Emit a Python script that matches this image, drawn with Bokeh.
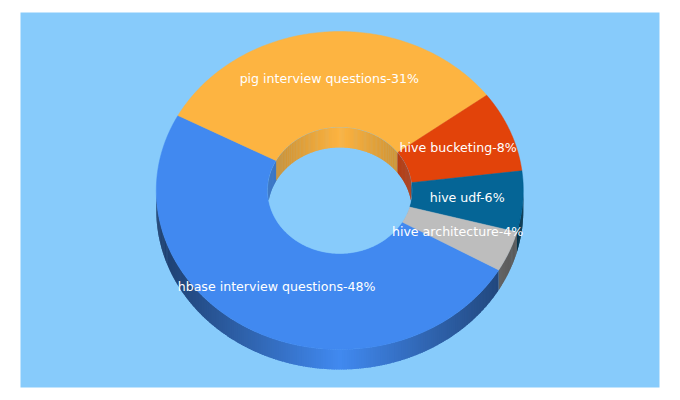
import numpy as np
from bokeh.plotting import figure
from bokeh.models import Range1d
from bokeh.embed import file_html
from bokeh.resources import INLINE
from bokeh.core.properties import value as bk_value

categories = ["hbase interview questions", "pig interview questions", "hive bucketing", "hive udf", "hive architecture"]
percent = [48, 31, 8, 6, 4]
colors = ["#4189F0", "#FDB441", "#E2430A", "#056596", "#BDBDBD"]
BG = "#87CBFB"

RX, RY, IRX, IRY, DEPTH = 183.5, 159.0, 72.0, 63.0, 20.0
START = 120.0
STEP = 0.75
LABEL_DX, LABEL_DY = -0.8, 1.3


def shade(hex_color, f):
    rgb = [int(hex_color[i:i + 2], 16) for i in (1, 3, 5)]
    return "#%02x%02x%02x" % tuple(int(round(c * f)) for c in rgb)


def pt(cw_deg, rx, ry):
    a = np.radians(cw_deg)
    return rx * np.sin(a), ry * np.cos(a)


p = figure(width=664, height=392, frame_width=639, frame_height=375,
           x_range=Range1d(-319.3, 319.7), y_range=Range1d(-197, 178),
           toolbar_location=None, output_backend="svg",
           min_border_left=20, min_border_top=12, min_border_right=5, min_border_bottom=5,
           border_fill_color="white", background_fill_color=BG, outline_line_color=None)
p.axis.visible = False
p.grid.visible = False

total = sum(percent)
spans = []
a0 = START
for v in percent:
    a1 = a0 + 360.0 * v / total
    spans.append((a0, a1))
    a0 = a1


def strips(rx, ry, front, fade):
    """One thin quad per small angle step, each overlapping the next."""
    xs, ys, cs = [], [], []
    for (s0, s1), col in zip(spans, colors):
        angs = np.arange(s0, s1, STEP)
        for s in angs:
            e = min(s + STEP * 1.6, s1)
            m = s + STEP / 2
            if (np.cos(np.radians(m)) < 0) != front:
                continue
            f = 1 - fade * abs(np.sin(np.radians(m)))
            mid = np.linspace(s, e, 3)
            xa, ya = pt(mid, rx, ry)
            if front:
                yb = ya - DEPTH
            else:
                yb = np.maximum(ya - DEPTH, -ya)
            xs.append(np.concatenate([xa, xa[::-1]]).tolist())
            ys.append(np.concatenate([ya, yb[::-1]]).tolist())
            cs.append(shade(col, f))
    return xs, ys, cs


# outer wall (front half)
xs, ys, cs = strips(RX, RY, True, 0.55)
p.patches(xs, ys, fill_color=cs, line_color=None)

# top faces
xs, ys = [], []
for (a0, a1) in spans:
    ang = np.linspace(a0, a1, 160)
    xo, yo = pt(ang, RX, RY)
    xi, yi = pt(ang[::-1], IRX, IRY)
    xs.append(np.concatenate([xo, xi]).tolist())
    ys.append(np.concatenate([yo, yi]).tolist())
p.patches(xs, ys, fill_color=colors, line_color=colors, line_width=0.5)

# hole
ang = np.linspace(0, 360, 361)
hx, hy = pt(ang, IRX, IRY)
p.patch(hx, hy, fill_color=BG, line_color=BG, line_width=0.5)

# inner wall (back half), clipped to the hole
xs, ys, cs = strips(IRX, IRY, False, 0.22)
p.patches(xs, ys, fill_color=cs, line_color=None)

# labels
lx, ly, lt = [], [], []
for cat, v, (a0, a1) in zip(categories, percent, spans):
    x, y = pt((a0 + a1) / 2, RX * 0.7, RY * 0.7)
    lx.append(x + LABEL_DX)
    ly.append(y + LABEL_DY)
    lt.append(f"{cat}-{v}%")
p.text(lx, ly, text=lt, text_color="white", text_align="center", text_baseline="middle",
       text_font=bk_value("DejaVu Sans"), text_font_size="12.6px")

open("out.html", "w").write(file_html(p, INLINE))
